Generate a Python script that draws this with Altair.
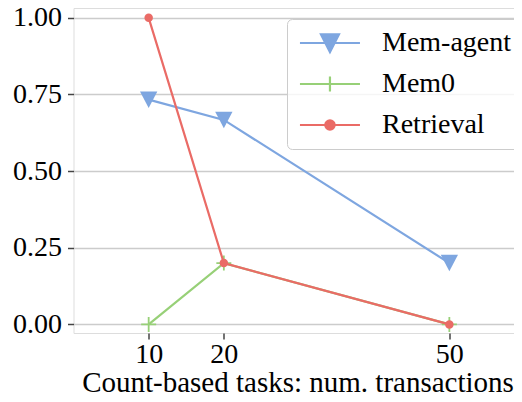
import altair as alt
import pandas as pd

x_vals = [10, 20, 50]
series_names = ["Mem-agent", "Mem0", "Retrieval"]
mem_agent = [0.733, 0.667, 0.2]
mem0 = [0.0, 0.2, 0.0]
retrieval = [1.0, 0.2, 0.0]
colors = ["#7EA6E0", "#97D077", "#EA6B66"]
y_ticks = [0.0, 0.25, 0.5, 0.75, 1.0]
x_title = "Count-based tasks: num. transactions"

rows = []
for name, vals in zip(series_names, [mem_agent, mem0, retrieval]):
    for xv, yv in zip(x_vals, vals):
        rows.append({"series": name, "x": xv, "y": yv})
df = pd.DataFrame(rows)

FONT = "Liberation Serif"
FS = 28

x_enc = alt.X(
    "x:Q",
    scale=alt.Scale(domain=[0, 58.6], nice=False, zero=False),
    axis=alt.Axis(
        values=x_vals, grid=False, domain=False, tickSize=6, tickColor="#444444",
        tickWidth=1.5, labelFont=FONT, labelFontSize=FS, labelColor="black",
        labelPadding=1, title=x_title, titleFont=FONT, titleFontSize=29,
        titleFontWeight="normal", titleColor="black", titlePadding=0,
        titleX=224, titleAlign="center",
    ),
)
y_enc = alt.Y(
    "y:Q",
    scale=alt.Scale(domain=[-0.028, 1.032], nice=False, zero=False),
    axis=alt.Axis(
        values=y_ticks, format=".2f", grid=True, gridColor="#cccccc", gridWidth=1.3,
        domain=False, tickSize=6, tickColor="#444444", tickWidth=1.5,
        labelFont=FONT, labelFontSize=FS, labelColor="black", labelPadding=6,
        title=None,
    ),
)

base = alt.Chart(df)

marker_specs = {
    "Mem-agent": dict(shape="M-1,-0.95L1,-0.95L0,0.95Z", filled=True, size=300),
    "Mem0": dict(shape="M-1,0H1M0,-1V1", filled=False, size=225, strokeWidth=1.8),
    "Retrieval": dict(shape="circle", filled=True, size=72),
}

layers = []
for name, col in zip(series_names, colors):
    sub = base.transform_filter(alt.datum.series == name)
    layers.append(sub.mark_line(strokeWidth=2.2, color=col).encode(x=x_enc, y=y_enc))
    layers.append(sub.mark_point(opacity=1, color=col, **marker_specs[name]).encode(x=x_enc, y=y_enc))

legend_paths = [
    "M-0.92,0H4.08M0.83,-0.72L2.33,-0.72L1.58,0.75Z",
    "M-0.92,0H4.08M1.58,-0.63V0.63",
    "M-0.92,0H4.08M1.97,0A0.39,0.39 0 1,1 1.19,0A0.39,0.39 0 1,1 1.97,0Z",
]

leg = alt.Legend(
    title=None, orient="none", legendX=213.5, legendY=11,
    labelFont=FONT, labelFontSize=FS, labelColor="black",
    symbolSize=576, symbolStrokeWidth=2.2, symbolOpacity=1, labelOffset=57, rowPadding=13,
    padding=10, fillColor="rgba(255,255,255,0.8)", strokeColor="#cccccc",
    cornerRadius=5,
)

legend_layer = base.transform_filter("false").mark_point(filled=True, strokeWidth=2.2).encode(
    x=x_enc, y=y_enc,
    shape=alt.Shape("series:N", scale=alt.Scale(domain=series_names, range=legend_paths), legend=leg),
    fill=alt.Fill("series:N", scale=alt.Scale(domain=series_names, range=colors), legend=leg),
    stroke=alt.Stroke("series:N", scale=alt.Scale(domain=series_names, range=colors), legend=leg),
)
layers.append(legend_layer)

chart = alt.layer(*layers).properties(
    width=440.5, height=325,
    autosize=alt.AutoSizeParams(type="none"),
    padding={"left": 65.5, "top": 0, "right": 0, "bottom": 61},
).configure_view(stroke=None).configure(background="white")

chart.save("out.html", embed_options={"renderer": "svg", "actions": False})
